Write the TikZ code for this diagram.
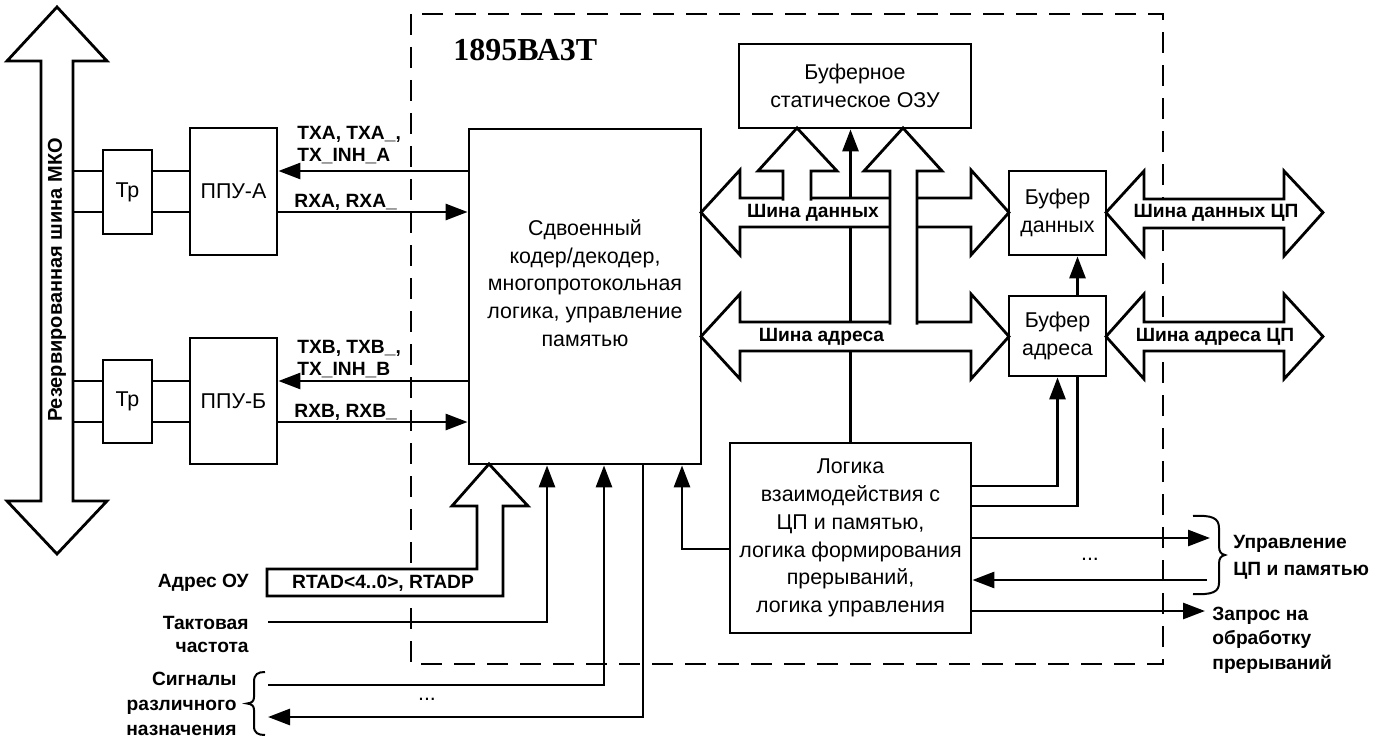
\documentclass[tikz,border=0pt]{standalone}
\usepackage{fontspec}
\setmainfont{Liberation Sans}
\newfontfamily\titlefont{Liberation Serif}
\usetikzlibrary{arrows.meta,calc}

\tikzset{
  box/.style={draw, line width=1.4pt, fill=white, inner sep=0pt, align=center,
    font=\fontsize{10.7}{13.9}\selectfont},
  txt/.style={inner sep=0pt, align=center, font=\fontsize{10.7}{13.9}\selectfont},
  lbl/.style={inner sep=0pt, font=\bfseries\fontsize{9.6}{11}\selectfont},
  wire/.style={line width=1.4pt},
  sig/.style={line width=1.4pt, -{Triangle[length=11pt,width=8pt]}},
  bus/.style={draw, fill=white, line width=1.4pt},
  chipframe/.style={line width=1.4pt, dash pattern=on 10.5pt off 6pt},
  bracepath/.style={line width=1pt},
}

\begin{document}
\begin{tikzpicture}[x=0.5pt,y=-0.5pt]
    \useasboundingbox (0,0) rectangle (1382,738);

    % chip outline
    \draw[chipframe] (411,14) rectangle (1163,664);
    \node[anchor=west, inner sep=0pt, font=\titlefont\bfseries\fontsize{16}{16}\selectfont] (chip) at (453,50) {1895ВА3Т};

    % blocks
    \node[box, minimum width=24.5pt, minimum height=42pt] (trA) at (127.5,192) {Тр};
    \node[box, minimum width=43.5pt, minimum height=63.5pt] (ppuA) at (233.5,191.5) {ППУ-А};
    \node[box, minimum width=24.5pt, minimum height=41.5pt] (trB) at (127.5,401.5) {Тр};
    \node[box, minimum width=43.5pt, minimum height=63pt] (ppuB) at (233.5,401) {ППУ-Б};
    \node[box, minimum width=116pt, minimum height=167.5pt] (core) at (585,296.5) {};
    \node[txt] (coretxt) at (585,283) {Сдвоенный\\кодер/декодер,\\многопротокольная\\логика, управление\\памятью};
    \node[box, minimum width=116pt, minimum height=42pt] (ram) at (855,86) {Буферное\\статическое ОЗУ};
    \node[box, minimum width=48.5pt, minimum height=42pt] (bufD) at (1057.5,213) {Буфер\\данных};
    \node[box, minimum width=48.5pt, minimum height=40pt] (bufA) at (1057.5,336) {Буфер\\адреса};
    \node[box, minimum width=120.5pt, minimum height=95pt] (logic) at (850.5,538) {Логика\\взаимодействия с\\ЦП и памятью,\\логика формирования\\прерываний,\\логика управления};

    \draw[sig] (logic.north) -- (logic.north |- ram.south);

    % internal buses
    \filldraw[bus] (701,212.5) -- (740,170) -- (740,198) -- (971,198) -- (971,170) -- (1009,212.5)
        -- (971,255) -- (971,227) -- (740,227) -- (740,255) -- cycle;
    \filldraw[bus] (701,336.5) -- (740,294) -- (740,322) -- (971,322) -- (971,294) -- (1009,336.5)
        -- (971,379) -- (971,351) -- (740,351) -- (740,379) -- cycle;
    \filldraw[bus] (783,200.5) -- (783,171) -- (758,171) -- (797,128) -- (837,171) -- (811,171) -- (811,200.5);
    \filldraw[bus] (890,324.5) -- (890,171) -- (864,171) -- (903,128) -- (942,171) -- (917,171) -- (917,324.5);
    \node[lbl] (dbus) at (813,213) {Шина данных};
    \node[lbl] (abus) at (821.5,337) {Шина адреса};

    % CPU side buses
    \filldraw[bus] (1106,212.5) -- (1144,171) -- (1144,199) -- (1284,199) -- (1284,171) -- (1323,212.5)
        -- (1284,256) -- (1284,228) -- (1144,228) -- (1144,256) -- cycle;
    \filldraw[bus] (1106,336.5) -- (1144,294) -- (1144,322) -- (1284,322) -- (1284,294) -- (1323,336.5)
        -- (1284,379) -- (1284,351) -- (1144,351) -- (1144,379) -- cycle;
    \node[lbl] (cdbus) at (1216,213) {Шина данных ЦП};
    \node[lbl] (cabus) at (1215,337) {Шина адреса ЦП};

    % MKO bus
    \filldraw[bus] (57,7) -- (107,61) -- (73,61) -- (73,501) -- (107,501) -- (57,554)
        -- (7,501) -- (41,501) -- (41,61) -- (7,61) -- cycle;
    \node[lbl, rotate=90, font=\bfseries\fontsize{10}{11}\selectfont] (mko) at (57,280) {Резервированная шина МКО};
    \coordinate (mkoR) at (73,280);

    % RT address
    \filldraw[bus] (489,464) -- (528,506) -- (503,506) -- (503,596) -- (267,596) -- (267,569)
        -- (477,569) -- (477,506) -- (452,506) -- cycle;
    \node[lbl] (rtad) at (383,583) {RTAD<4..0>, RTADP};
    \node[lbl, anchor=east] (rtadl) at (249,583) {Адрес ОУ};

    % channels A and B
    \coordinate (ya1) at (0,171);
    \coordinate (ya2) at (0,212);
    \coordinate (yb1) at (0,381);
    \coordinate (yb2) at (0,422);
    \draw[wire] (mkoR |- ya1) -- (trA.west |- ya1) (trA.east |- ya1) -- (ppuA.west |- ya1);
    \draw[wire] (mkoR |- ya2) -- (trA.west |- ya2) (trA.east |- ya2) -- (ppuA.west |- ya2);
    \draw[wire] (mkoR |- yb1) -- (trB.west |- yb1) (trB.east |- yb1) -- (ppuB.west |- yb1);
    \draw[wire] (mkoR |- yb2) -- (trB.west |- yb2) (trB.east |- yb2) -- (ppuB.west |- yb2);
    \draw[sig] (core.west |- ya1) -- (ppuA.east |- ya1);
    \draw[sig] (ppuA.east |- ya2) -- (core.west |- ya2);
    \draw[sig] (core.west |- yb1) -- (ppuB.east |- yb1);
    \draw[sig] (ppuB.east |- yb2) -- (core.west |- yb2);
    \node[lbl, anchor=west, align=left] (txA) at (297,145) {TXA, TXA\_,\\TX\_INH\_A};
    \node[lbl, anchor=west] (rxA) at (294,202) {RXA, RXA\_};
    \node[lbl, anchor=west, align=left] (txB) at (297,359) {TXB, TXB\_,\\TX\_INH\_B};
    \node[lbl, anchor=west] (rxB) at (294,412) {RXB, RXB\_};

    % inputs at the bottom
    \coordinate (clk) at (268,622);
    \coordinate (misc1) at (268,685);
    \coordinate (misc2) at (268,717);
    \draw[sig] (clk) -| ($(core.south)+(-38,0)$);
    \draw[sig] (misc1) -| ($(core.south)+(19,0)$);
    \draw[sig] ($(core.south)+(58,0)$) |- (misc2);
    \draw[sig] ($(logic.west)+(0,11)$) -| ($(core.south)+(97,0)$);
    \node[lbl, anchor=east, align=right, font=\bfseries\fontsize{9.6}{11.5}\selectfont] (clkl) at (249,634) {Тактовая\\частота};
    \node[lbl, anchor=east, align=right, font=\bfseries\fontsize{9.6}{12.5}\selectfont] (miscl) at (237,704) {Сигналы\\различного\\назначения};
    \node[txt] (dots1) at (427,699) {...};
    \draw[bracepath] (265,672) .. controls (258,672) and (254,674) .. (254,682) -- (254,697)
        .. controls (254,701) and (252,703) .. (247,703.5) .. controls (252,704) and (254,706) .. (254,710)
        -- (254,726) .. controls (254,733) and (258,735) .. (265,735);

    % buffers and CPU side
    \draw[sig] ($(logic.east)+(0,-52)$) -| (bufA.south);
    \draw[wire] ($(logic.east)+(0,-32)$) -| ($(bufA.south)+(20,0)$);
    \draw[sig] ($(bufA.north)+(20,0)$) -- ($(bufD.south)+(20,0)$);
    \coordinate (cpuout) at (1210,538);
    \coordinate (cpuin) at (1207,580);
    \coordinate (irq) at (1205,611);
    \draw[sig] (logic.east) -- (cpuout);
    \draw[sig] (cpuin) -- (logic.east |- cpuin);
    \draw[sig] (logic.east |- irq) -- (irq);
    \node[txt] (dots2) at (1090,559) {...};
    \draw[bracepath] (1193,516) .. controls (1212,515) and (1219,518) .. (1219,528) -- (1219,546)
        .. controls (1219,552) and (1221,554) .. (1225,555) .. controls (1221,556) and (1219,558) .. (1219,564)
        -- (1219,583) .. controls (1219,592) and (1212,595) .. (1193,594);
    \node[lbl, anchor=west, align=left, font=\bfseries\fontsize{9.6}{13.5}\selectfont] (cpul) at (1233,557) {Управление\\ЦП и памятью};
    \node[lbl, anchor=west, align=left, font=\bfseries\fontsize{9.6}{12.3}\selectfont] (irql) at (1212,640) {Запрос на\\обработку\\прерываний};
\end{tikzpicture}
\end{document}
